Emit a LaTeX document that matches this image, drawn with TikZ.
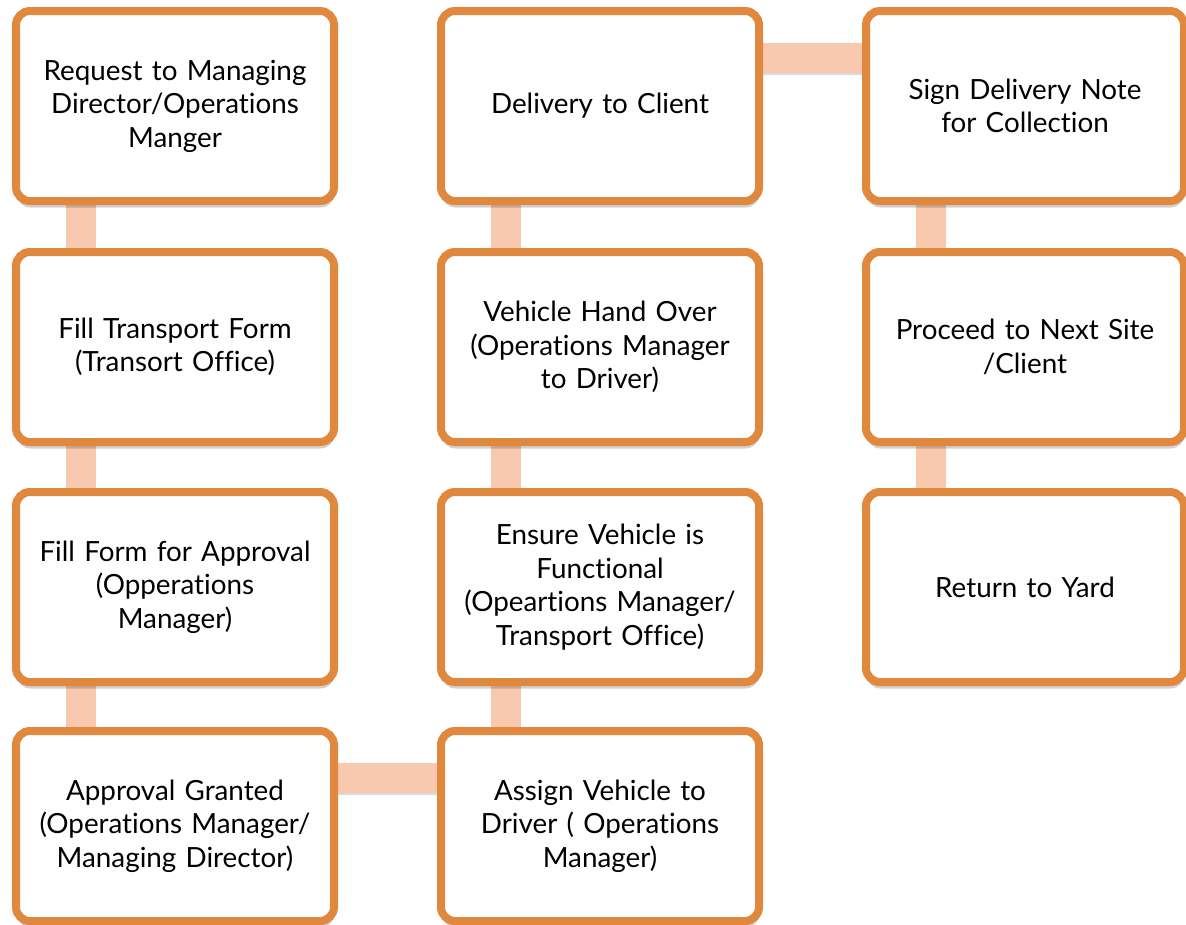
\documentclass[tikz,border=0pt]{standalone}
\usepackage{fontspec}
\setmainfont{Lato}[Ligatures=NoCommon]
\usetikzlibrary{shadows,backgrounds}
\definecolor{boxline}{RGB}{224,136,62}
\definecolor{linkfill}{RGB}{248,201,174}
\begin{document}
\begin{tikzpicture}[x=1pt,y=-1pt,
  stepbox/.style={draw=boxline, line width=8pt, fill=white,
    rounded corners=14pt, minimum width=318pt, minimum height=190pt,
    inner sep=0pt, align=center, text width=306pt,
    font=\fontsize{27.8}{33.5}\selectfont,
    drop shadow={shadow xshift=0.5pt, shadow yshift=-6.5pt, opacity=0.18, fill=black}},
  linkbar/.style={fill=linkfill,
    drop shadow={shadow xshift=0pt, shadow yshift=-2pt, opacity=0.15, fill=black}}]
\useasboundingbox (0,0) rectangle (1186,924);

% process steps, column by column
\node[stepbox] (req)      at (175,106) {Request to Managing\\Director/Operations\\Manger};
\node[stepbox] (form)     at (175,347) {Fill Transport Form\\(Transort Office)};
\node[stepbox] (approval) at (175,587) {Fill Form for Approval\\(Opperations\\Manager)};
\node[stepbox] (granted)  at (175,826) {Approval Granted\\(Operations Manager/\\Managing Director)};

\node[stepbox] (assign)   at (600,826) {Assign Vehicle to\\Driver ( Operations\\Manager)};
\node[stepbox] (ensure)   at (600,587) {Ensure Vehicle is\\Functional\\(Opeartions Manager/\\Transport Office)};
\node[stepbox] (handover) at (600,347) {Vehicle Hand Over\\(Operations Manager\\to Driver)};
\node[stepbox] (delivery) at (600,106) {Delivery to Client};

\node[stepbox] (sign)     at (1025,106) {Sign Delivery Note\\for Collection};
\node[stepbox] (proceed)  at (1025,347) {Proceed to Next Site\\/Client};
\node[stepbox] (yard)     at (1025,587) {Return to Yard};

% connecting bars behind the boxes
\begin{scope}[on background layer]
  \foreach \a/\b in {req/form, form/approval, approval/granted,
                     assign/ensure, ensure/handover, handover/delivery,
                     sign/proceed, proceed/yard}{
    \fill[linkbar] ([xshift=-109pt,yshift=6pt]\a.south) rectangle ([xshift=-79pt,yshift=-6pt]\b.north);
  }
  \foreach \a/\b in {granted/assign, delivery/sign}{
    \fill[linkbar] ([xshift=-6pt,yshift=63pt]\a.east) rectangle ([xshift=6pt,yshift=33pt]\b.west);
  }
\end{scope}
\end{tikzpicture}
\end{document}
